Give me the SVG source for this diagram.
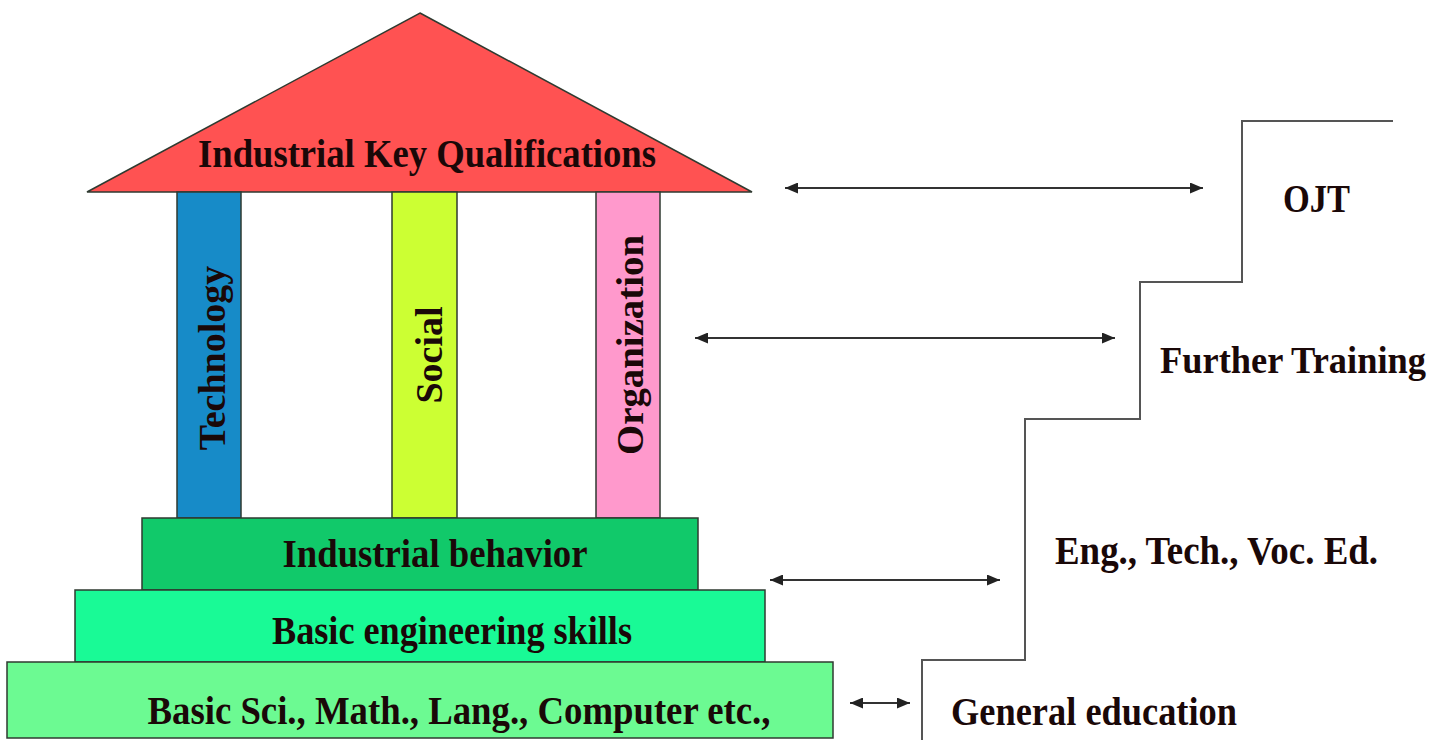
<svg xmlns="http://www.w3.org/2000/svg" width="1445" height="740" viewBox="0 0 1445 740">
<style>
.t{font-family:"Liberation Serif","Times New Roman",serif;font-weight:bold;font-size:40px;fill:#1a0808;}
.r{font-size:38px;}
.c{text-anchor:middle;}
.box{stroke:#2f3a30;stroke-width:1.5;}
.arr{stroke:#333;stroke-width:2;fill:none;marker-start:url(#ah);marker-end:url(#ah);}
.stair{stroke:#555;stroke-width:2;fill:none;}
</style>
<defs>
<marker id="ah" markerUnits="userSpaceOnUse" markerWidth="14" markerHeight="11" refX="13" refY="5.5" orient="auto-start-reverse">
<path d="M0,0 L13,5.5 L0,11 z" fill="#222"/>
</marker>
</defs>
<rect width="1445" height="740" fill="#fff"/>
<g id="roof">
<polygon class="box" points="420,13 752,192 87,192" fill="#ff5252"/>
<text class="t c" x="427" y="167" textLength="458" lengthAdjust="spacingAndGlyphs">Industrial Key Qualifications</text>
</g>
<g id="pillar-technology">
<rect class="box" x="177" y="192" width="64" height="326" fill="#178bc8"/>
<text class="t r c" transform="translate(225,358) rotate(-90)">Technology</text>
</g>
<g id="pillar-social">
<rect class="box" x="392" y="192" width="65" height="326" fill="#ccff33"/>
<text class="t r c" transform="translate(442,355) rotate(-90)">Social</text>
</g>
<g id="pillar-organization">
<rect class="box" x="596" y="192" width="64" height="326" fill="#ff99cc"/>
<text class="t r c" transform="translate(643,345) rotate(-90)" textLength="220" lengthAdjust="spacingAndGlyphs">Organization</text>
</g>
<g id="industrial-behavior">
<rect class="box" x="142" y="518" width="556" height="72" fill="#11c96a"/>
<text class="t c" x="435" y="567" textLength="305" lengthAdjust="spacingAndGlyphs">Industrial behavior</text>
</g>
<g id="basic-engineering">
<rect class="box" x="75" y="590" width="690" height="72" fill="#19fa96"/>
<text class="t c" x="452" y="644" textLength="360" lengthAdjust="spacingAndGlyphs">Basic engineering skills</text>
</g>
<g id="basic-sci">
<rect class="box" x="7" y="662" width="826" height="76" fill="#6cfa92"/>
<text class="t c" x="459" y="724" textLength="623" lengthAdjust="spacingAndGlyphs">Basic Sci., Math., Lang., Computer etc.,</text>
</g>
<g id="stairs">
<polyline class="stair" points="922,740 922,660 1025,660 1025,419 1140,419 1140,282 1242,282 1242,121 1393,121"/>
</g>
<g id="ojt"><text class="t" x="1283" y="212" textLength="67" lengthAdjust="spacingAndGlyphs">OJT</text></g>
<g id="further-training"><text class="t" x="1160" y="373" style="font-size:37px" textLength="266" lengthAdjust="spacingAndGlyphs">Further Training</text></g>
<g id="eng-tech"><text class="t" x="1055" y="564" textLength="323" lengthAdjust="spacingAndGlyphs">Eng., Tech., Voc. Ed.</text></g>
<g id="general-education"><text class="t" x="951" y="725" textLength="286" lengthAdjust="spacingAndGlyphs">General education</text></g>
<g id="connectors">
<line class="arr" x1="785" y1="188" x2="1203" y2="188"/>
<line class="arr" x1="695" y1="338" x2="1115" y2="338"/>
<line class="arr" x1="770" y1="580" x2="1000" y2="580"/>
<line class="arr" x1="850" y1="703" x2="910" y2="703"/>
</g>
</svg>
